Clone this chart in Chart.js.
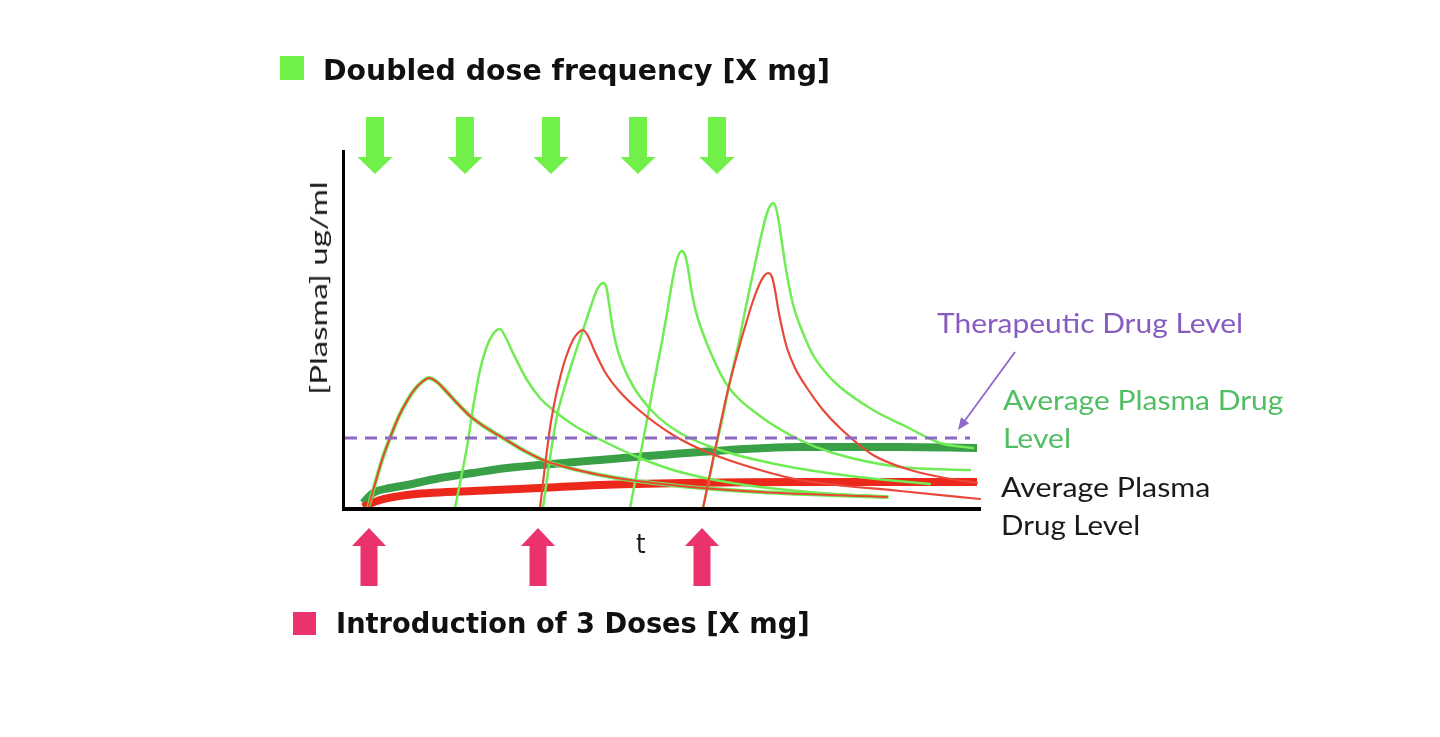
<!DOCTYPE html>
<html>
<head>
<meta charset="utf-8">
<script src="https://cdn.jsdelivr.net/npm/chart.js@4.4.1/dist/chart.umd.min.js"></script>
<style>
  html,body{margin:0;padding:0;background:#fff;}
  #wrap{position:relative;width:1440px;height:737px;overflow:hidden;}
  #c{position:absolute;left:0;top:0;}
  .lbl{position:absolute;white-space:nowrap;transform-origin:left center;}
  .sq{position:absolute;}
</style>
</head>
<body>
<div id="wrap">
  <canvas id="c" width="1440" height="737"></canvas>
</div>
<script>
// ---- Data (time t, concentration c) ----
const axisMaxT = 635;
const axisMaxC = 358;
const therapeuticLevel = 70;
const therapeuticEndT = 625;

// dose markers (time)
const greenDoseArrowT = [30, 120, 206, 293, 372];
const redDoseArrowT   = [24, 193, 357];

// First dose (shared by both regimens)
const dose1T = [23, 30, 37, 45, 54, 62, 70, 77, 84, 92, 100, 112, 125, 140, 158, 178, 198, 255, 335, 415, 542];
const dose1C = [0, 24, 48, 70, 92, 107, 119, 126, 130, 126, 118, 105, 92, 81, 70, 58, 48, 33, 22, 16, 11];

// Doubled frequency regimen (green)
const green2T = [110, 116, 122, 128, 135, 142, 148, 152, 155, 160, 168, 182, 195, 208, 230, 262, 295, 328, 370, 415, 475, 542];
const green2C = [0, 30, 61, 100, 138, 162, 174, 178, 179, 172, 155, 128, 110, 98, 82, 65, 50, 38, 28, 21, 15, 11];
const green3T = [198, 205, 212, 220, 228, 236, 242, 247, 251, 255, 258, 261, 264, 267, 271, 277, 288, 308, 335, 375, 435, 505, 585];
const green3C = [0, 50, 92, 122, 148, 172, 190, 205, 216, 223, 225, 222, 205, 184, 164, 145, 122, 96, 75, 58, 43, 32, 24];
const green4T = [285, 292, 298, 305, 312, 318, 322, 327, 331, 334, 337, 340, 343, 346, 350, 356, 368, 382, 415, 455, 488, 555, 625];
const green4C = [0, 36, 67, 104, 141, 172, 195, 225, 245, 254, 257, 253, 240, 220, 200, 180, 150, 123, 92, 68, 55, 41, 38];
const green5T = [358, 364, 370, 378, 385, 393, 400, 407, 413, 418, 422, 425, 428, 431, 434, 437, 440, 444, 449, 456, 468, 481, 495, 528, 562, 595, 628];
const green5C = [0, 28, 57, 92, 127, 162, 197, 230, 258, 280, 295, 302, 305, 300, 285, 265, 245, 222, 200, 180, 153, 135, 121, 98, 81, 65, 60];
const greenAvgT = [18, 28, 45, 62, 95, 128, 162, 195, 255, 355, 455, 555, 632];
const greenAvgC = [5, 15, 20, 23, 30, 35, 40, 43, 48, 56, 61, 61, 60];

// 3 doses regimen (red)
const red2T = [195, 200, 205, 210, 215, 221, 228, 233, 238, 243, 250, 260, 275, 295, 328, 362, 415, 455, 555, 635];
const red2C = [0, 42, 80, 108, 130, 151, 168, 175, 178, 172, 156, 136, 116, 97, 73, 56, 38, 28, 17, 9];
const red3T = [358, 370, 382, 392, 402, 409, 415, 419, 423, 427, 430, 433, 437, 442, 450, 462, 478, 495, 528, 562, 595, 632];
const red3C = [0, 58, 114, 153, 188, 210, 225, 232, 235, 231, 218, 200, 180, 160, 140, 120, 98, 80, 53, 39, 31, 25];
const redAvgT = [18, 35, 62, 128, 195, 255, 455, 632];
const redAvgC = [1, 8, 13, 17, 20, 23, 26, 26];

// ---- styles ----
const THIN_GREEN = 'rgb(112,236,84)';
const THICK_GREEN = 'rgb(58,160,72)';
const THIN_RED = 'rgb(232,72,58)';
const THICK_RED = 'rgb(236,40,28)';
const PURPLE = 'rgb(142,104,196)';
const PINK = 'rgb(234,50,108)';
const ARROW_GREEN = 'rgb(112,240,72)';

const pts = (T, C) => T.map((t, i) => ({x: t, y: C[i]}));

function ds(T, C, color, width, order, extra) {
  return Object.assign({
    data: pts(T, C), borderColor: color, borderWidth: width, pointRadius: 0,
    cubicInterpolationMode: 'monotone', fill: false, order: order, clip: false,
    borderCapStyle: 'round', borderJoinStyle: 'round'
  }, extra || {});
}

const datasets = [
  ds([0, therapeuticEndT], [therapeuticLevel, therapeuticLevel], PURPLE, 3, 0, {borderDash: [12, 8], borderCapStyle: 'butt', cubicInterpolationMode: 'default', tension: 0}),
  ds(dose1T, dose1C, THIN_RED, 2, 1),
  ds(red2T, red2C, THIN_RED, 2.2, 2),
  ds(red3T, red3C, THIN_RED, 2.2, 2),
  ds(dose1T, dose1C, THIN_GREEN, 4, 3),
  ds(green2T, green2C, THIN_GREEN, 2.5, 3),
  ds(green3T, green3C, THIN_GREEN, 2.5, 3),
  ds(green4T, green4C, THIN_GREEN, 2.5, 3),
  ds(green5T, green5C, THIN_GREEN, 2.5, 3),
  ds(redAvgT, redAvgC, THICK_RED, 8, 10, {borderCapStyle: 'butt'}),
  ds(greenAvgT, greenAvgC, THICK_GREEN, 8, 11, {borderCapStyle: 'butt'})
];

const decor = {
  id: 'decor',
  afterDatasetsDraw(chart) {
    const ctx = chart.ctx;
    const xs = chart.scales.x, ys = chart.scales.y;
    const x0 = xs.getPixelForValue(0), y0 = ys.getPixelForValue(0);
    const xEnd = xs.getPixelForValue(axisMaxT), yTop = ys.getPixelForValue(axisMaxC);
    ctx.save();
    // axes
    ctx.fillStyle = '#000';
    ctx.fillRect(x0 - 3, yTop, 3, y0 - yTop + 3);
    ctx.fillRect(x0 - 3, y0 - 1, xEnd - x0 + 4, 4);
    // green down arrows
    ctx.fillStyle = ARROW_GREEN;
    greenDoseArrowT.forEach(t => {
      const cx = xs.getPixelForValue(t);
      ctx.beginPath();
      ctx.moveTo(cx - 9, 117); ctx.lineTo(cx + 9, 117); ctx.lineTo(cx + 9, 157);
      ctx.lineTo(cx + 17.5, 157); ctx.lineTo(cx, 174); ctx.lineTo(cx - 17.5, 157);
      ctx.lineTo(cx - 9, 157); ctx.closePath(); ctx.fill();
    });
    // pink up arrows
    ctx.fillStyle = PINK;
    redDoseArrowT.forEach(t => {
      const cx = xs.getPixelForValue(t);
      ctx.beginPath();
      ctx.moveTo(cx, 528); ctx.lineTo(cx + 17, 546); ctx.lineTo(cx + 8.5, 546);
      ctx.lineTo(cx + 8.5, 586); ctx.lineTo(cx - 8.5, 586); ctx.lineTo(cx - 8.5, 546);
      ctx.lineTo(cx - 17, 546); ctx.closePath(); ctx.fill();
    });
    // pointer from therapeutic label
    const tipX = xs.getPixelForValue(therapeuticEndT) - 12, tipY = ys.getPixelForValue(therapeuticLevel) - 8;
    const sx = 1015, sy = 352;
    const ang = Math.atan2(tipY - sy, tipX - sx);
    ctx.strokeStyle = PURPLE; ctx.lineWidth = 1.8;
    ctx.beginPath(); ctx.moveTo(sx, sy);
    ctx.lineTo(tipX - 9 * Math.cos(ang), tipY - 9 * Math.sin(ang)); ctx.stroke();
    ctx.fillStyle = PURPLE;
    ctx.beginPath();
    ctx.moveTo(tipX, tipY);
    ctx.lineTo(tipX - 12 * Math.cos(ang) + 5 * Math.sin(ang), tipY - 12 * Math.sin(ang) - 5 * Math.cos(ang));
    ctx.lineTo(tipX - 12 * Math.cos(ang) - 5 * Math.sin(ang), tipY - 12 * Math.sin(ang) + 5 * Math.cos(ang));
    ctx.closePath(); ctx.fill();
    ctx.restore();
  }
};

new Chart(document.getElementById('c'), {
  type: 'line',
  data: {datasets: datasets},
  options: {
    responsive: false,
    animation: false,
    events: [],
    layout: {padding: {left: 345, right: 460, top: 150, bottom: 229}},
    plugins: {legend: {display: false}, tooltip: {enabled: false}, title: {display: false}},
    scales: {
      x: {type: 'linear', min: 0, max: axisMaxT, display: false},
      y: {type: 'linear', min: 0, max: axisMaxC, display: false}
    }
  },
  plugins: [decor]
});

// ---- text labels ----
const labels = [
  {text: 'Doubled dose frequency [X mg]', x: 323, cy: 70, w: 507, size: 29, weight: 700, color: '#111', family: '"DejaVu Sans", sans-serif'},
  {text: 'Introduction of 3 Doses [X mg]', x: 336, cy: 623, w: 474, size: 29, weight: 700, color: '#111', family: '"DejaVu Sans", sans-serif'},
  {text: 'Therapeutic Drug Level', x: 937, cy: 322, w: 306, size: 27, weight: 400, color: 'rgb(136,92,190)', family: 'Lato, sans-serif'},
  {text: 'Average Plasma Drug', x: 1003, cy: 399, w: 280, size: 27, weight: 400, color: 'rgb(82,190,100)', family: 'Lato, sans-serif'},
  {text: 'Level', x: 1003, cy: 437, w: 68, size: 27, weight: 400, color: 'rgb(82,190,100)', family: 'Lato, sans-serif'},
  {text: 'Average Plasma', x: 1001, cy: 486, w: 209, size: 27, weight: 400, color: '#1a1a1a', family: 'Lato, sans-serif'},
  {text: 'Drug Level', x: 1001, cy: 524, w: 139, size: 27, weight: 400, color: '#1a1a1a', family: 'Lato, sans-serif'},
  {text: 't', x: 636, cy: 543, w: 10, size: 27, weight: 400, color: '#1a1a1a', family: '"DejaVu Sans", sans-serif'},
  {text: '[Plasma] ug/ml', cx: 318, cy: 288, w: 214, size: 24, weight: 400, color: '#1a1a1a', family: 'Lato, sans-serif', rotate: true}
];
const wrap = document.getElementById('wrap');
const els = labels.map(L => {
  const s = document.createElement('span');
  s.className = 'lbl';
  s.textContent = L.text;
  s.style.font = `${L.weight} ${L.size}px ${L.family}`;
  s.style.lineHeight = '1';
  s.style.color = L.color;
  wrap.appendChild(s);
  return s;
});
const squares = [
  {x: 280, y: 56, s: 24, c: ARROW_GREEN},
  {x: 293, y: 612, s: 23, c: PINK}
];
squares.forEach(q => {
  const d = document.createElement('div');
  d.className = 'sq';
  d.style.left = q.x + 'px'; d.style.top = q.y + 'px';
  d.style.width = q.s + 'px'; d.style.height = q.s + 'px';
  d.style.background = q.c;
  wrap.appendChild(d);
});
function layoutLabels() {
  labels.forEach((L, i) => {
    const s = els[i];
    const w = s.offsetWidth;
    const k = L.w / w;
    if (L.rotate) {
      s.style.left = L.cx + 'px'; s.style.top = L.cy + 'px';
      s.style.transformOrigin = 'center center';
      s.style.transform = `translate(-50%,-50%) rotate(-90deg) scaleX(${k})`;
    } else {
      s.style.left = L.x + 'px'; s.style.top = L.cy + 'px';
      s.style.transform = `translateY(-50%) scaleX(${k})`;
    }
  });
}
layoutLabels();
if (document.fonts && document.fonts.ready) document.fonts.ready.then(layoutLabels);
</script>
</body>
</html>
